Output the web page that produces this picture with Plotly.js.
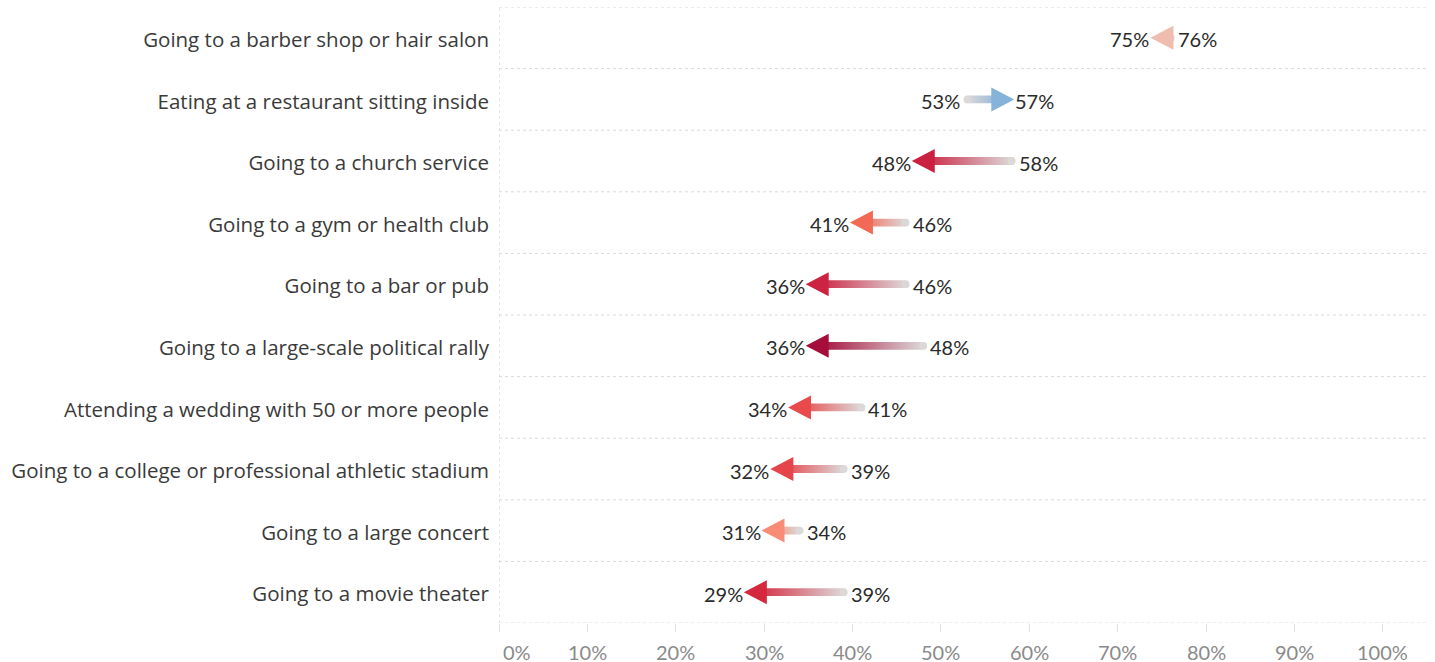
<!DOCTYPE html>
<html>
<head>
<meta charset="utf-8">
<script src="https://cdn.plot.ly/plotly-3.0.1.min.js"></script>
<style>html,body{margin:0;padding:0;background:#fff;}#chart{width:1435px;height:662px;}</style>
</head>
<body>
<div id="chart"></div>
<script>
// ---- data ----
const categories = [
  "Going to a barber shop or hair salon",
  "Eating at a restaurant sitting inside",
  "Going to a church service",
  "Going to a gym or health club",
  "Going to a bar or pub",
  "Going to a large-scale political rally",
  "Attending a wedding with 50 or more people",
  "Going to a college or professional athletic stadium",
  "Going to a large concert",
  "Going to a movie theater"
];
const beforeValues = [76, 53, 58, 46, 46, 48, 41, 39, 34, 39];
const afterValues  = [75, 57, 48, 41, 36, 36, 34, 32, 31, 29];
const arrowColors = ["#efbcb0", "#85b3da", "#c9213f", "#f26a55", "#cb2341",
                     "#a50d3a", "#e94a4b", "#e4444a", "#f98c77", "#d5283f"];
const tickValues = [0, 10, 20, 30, 40, 50, 60, 70, 80, 90, 100];

// ---- layout geometry ----
const W = 1435, H = 662;
const M = {l: 499, r: 7, t: 7, b: 39};
const xMax = 105.1;
const pxPerX = (W - M.l - M.r) / xMax;
const nRows = categories.length;
const pxPerY = (H - M.t - M.b) / nRows;
const tailGrey = "#dcd8d8";
const bodyHalf = 3.9 / pxPerY;
const headHalfH = 12 / pxPerY;
const headHalfW = 11.5 / pxPerX;
const labelDrop = 1.5 / pxPerY;

const traces = [];
const caps = {x: [], y: []};
const annotations = [];

categories.forEach((cat, i) => {
  const s = beforeValues[i], e = afterValues[i];
  const dir = e >= s ? 1 : -1;
  const col = arrowColors[i];
  const lo = Math.min(s, e), hi = Math.max(s, e);
  traces.push({
    type: "scatter", mode: "lines", fill: "toself",
    x: [s, e, e, s, s], y: [i - bodyHalf, i - bodyHalf, i + bodyHalf, i + bodyHalf, i - bodyHalf],
    line: {width: 0, color: "rgba(0,0,0,0)"},
    fillgradient: {type: "horizontal", start: lo, stop: hi,
      colorscale: dir < 0 ? [[0, col], [1, tailGrey]] : [[0, tailGrey], [1, col]]},
    hoverinfo: "skip", showlegend: false
  });
  caps.x.push(s); caps.y.push(i);
});

traces.push({
  type: "scatter", mode: "markers", x: caps.x, y: caps.y,
  marker: {size: 7.8, color: tailGrey, line: {width: 0}},
  hoverinfo: "skip", showlegend: false
});

const lblFont = {family: "Lato, 'Open Sans', sans-serif", size: 20, color: "#2a2a2a"};
categories.forEach((cat, i) => {
  const s = beforeValues[i], e = afterValues[i];
  const dir = e >= s ? 1 : -1;
  const tip = e + dir * headHalfW, base = e - dir * headHalfW;
  traces.push({
    type: "scatter", mode: "lines", fill: "toself",
    x: [tip, base, base, tip], y: [i, i - headHalfH, i + headHalfH, i],
    line: {width: 0, color: "rgba(0,0,0,0)"},
    fillcolor: arrowColors[i],
    hoverinfo: "skip", showlegend: false
  });
  const fmt = v => Math.round(v) + "%";
  annotations.push({
    xref: "x", yref: "y", x: e, y: i + labelDrop, text: fmt(e), showarrow: false,
    xanchor: dir < 0 ? "right" : "left", xshift: dir < 0 ? -10.5 : 10.5, font: lblFont
  });
  annotations.push({
    xref: "x", yref: "y", x: s, y: i + labelDrop, text: fmt(s), showarrow: false,
    xanchor: dir < 0 ? "left" : "right", xshift: dir < 0 ? 5 : -5, font: lblFont
  });
});

tickValues.forEach(v => {
  annotations.push({
    xref: "x", yref: "paper", x: v, y: 0, yanchor: "top", yshift: -16,
    height: 21, valign: "middle",
    xanchor: v === 0 ? "left" : "center", xshift: v === 0 ? 2 : 0,
    text: v + "%", showarrow: false,
    font: {family: "Lato, 'Open Sans', sans-serif", size: 20, color: "#8a8a8a"}
  });
});

const shapes = [];
for (let k = 0; k <= nRows; k++) {
  shapes.push({type: "line", xref: "paper", yref: "y", x0: 0, x1: 1, y0: k - 0.5, y1: k - 0.5,
    line: {color: "#dadada", width: 1, dash: "dot"}});
}
shapes.push({type: "line", xref: "x", yref: "paper", x0: 0, x1: 0, y0: 0, y1: 1,
  line: {color: "#d0d0d0", width: 1, dash: "dot"}});

const layout = {
  width: W, height: H,
  margin: M,
  paper_bgcolor: "#fff", plot_bgcolor: "#fff",
  showlegend: false, hovermode: false,
  xaxis: {
    range: [0, xMax], showgrid: false, zeroline: false, showline: false,
    tickvals: tickValues, showticklabels: false,
    ticks: "outside", ticklen: 8, tickcolor: "#e2e2e2", tickwidth: 1, fixedrange: true
  },
  yaxis: {
    range: [nRows - 0.5, -0.5], showgrid: false, zeroline: false, showline: false,
    tickvals: categories.map((c, i) => i), ticktext: categories,
    ticks: "", ticklabelstandoff: 9, ticklabelshift: -2,
    tickfont: {family: "'Open Sans', sans-serif", size: 20.5, color: "#3a3a3a"}, fixedrange: true
  },
  shapes: shapes,
  annotations: annotations
};

Plotly.newPlot("chart", traces, layout, {displayModeBar: false, staticPlot: true});
</script>
</body>
</html>
